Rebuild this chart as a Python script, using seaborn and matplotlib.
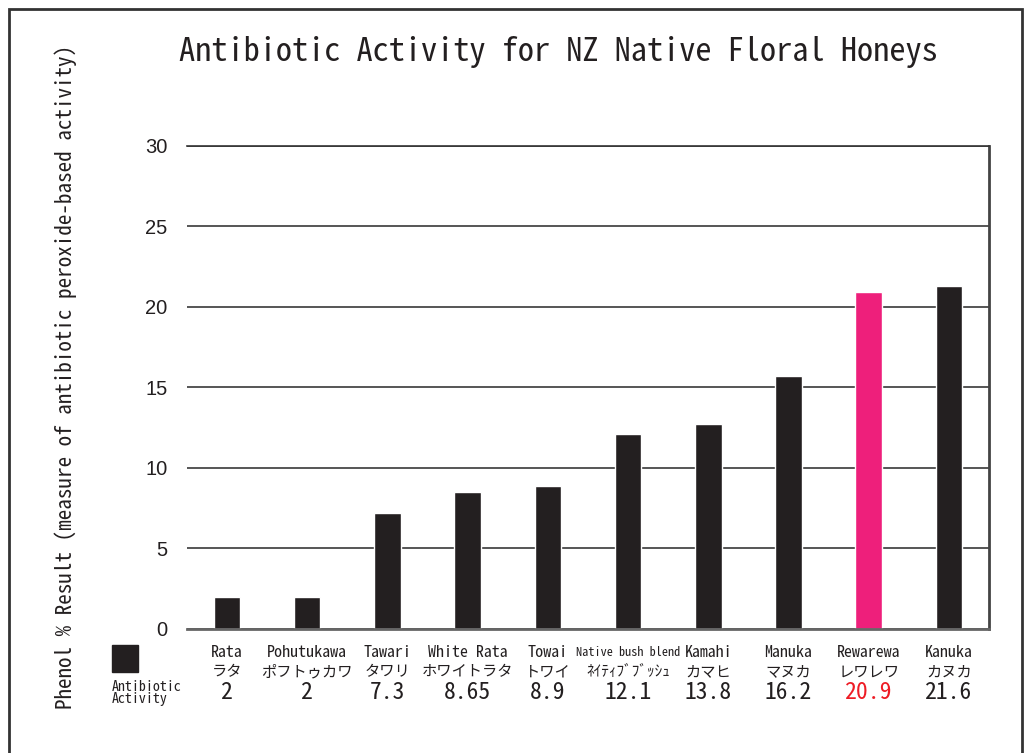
import matplotlib
matplotlib.use("Agg")
import matplotlib.pyplot as plt
import matplotlib.transforms as mtransforms
from matplotlib.patches import Rectangle
import seaborn as sns

# ==========================================================
# Data
# ==========================================================

honeys = ["Rata", "Pohutukawa", "Tawari", "White Rata", "Towai",
          "Native bush blend", "Kamahi", "Manuka", "Rewarewa", "Kanuka"]
katakana = ["ラタ", "ポフトゥカワ", "タワリ", "ホワイトラタ", "トワイ",
            "ﾈｲﾃｨﾌﾞﾌﾞｯｼｭ", "カマヒ", "マヌカ", "レワレワ", "カヌカ"]
# bar heights as drawn in the chart
bar_heights = [2.0, 2.0, 7.2, 8.5, 8.9, 12.1, 12.7, 15.7, 20.9, 21.3]
# value labels printed under the bars
value_labels = ["2", "2", "7.3", "8.65", "8.9", "12.1", "13.8", "16.2", "20.9", "21.6"]
highlight = "Rewarewa"

yticks = [0, 5, 10, 15, 20, 25, 30]

# ==========================================================
# Style
# ==========================================================

sns.set_style("white")
jp = ["Noto Sans Mono CJK JP", "Noto Sans CJK JP", "DejaVu Sans"]
plt.rcParams["font.family"] = jp

BAR = "#231f20"
PINK = "#ee1f7b"
RED = "#ee1c25"
TXT = "#231f20"

palette = {h: (PINK if h == highlight else BAR) for h in honeys}

fig = plt.figure(figsize=(10.27, 7.53), dpi=100)
ax = fig.add_axes([0.182, 0.1647, 0.781, 0.6415])

sns.barplot(
    x=honeys,
    y=bar_heights,
    hue=honeys,
    palette=palette,
    legend=False,
    width=0.33,
    saturation=1,
    ax=ax
)

ax.set_ylim(0, 30)
ax.set_xlim(-0.5, len(honeys) - 0.5)
ax.set_yticks(yticks)
ax.set_yticklabels([str(t) for t in yticks],
                   family=["Liberation Sans Narrow", "Liberation Sans", "DejaVu Sans"],
                   fontsize=14.5, color=TXT)
ax.tick_params(axis="y", length=0, pad=14)
ax.tick_params(axis="x", length=0, labelbottom=False)
ax.set_xlabel("")
ax.set_ylabel("")

ax.yaxis.grid(True, color="#555555", lw=1.4)
ax.set_axisbelow(True)

ax.spines["left"].set_visible(False)
ax.spines["bottom"].set_color("#666666")
ax.spines["bottom"].set_linewidth(2)
ax.spines["top"].set_color("#333333")
ax.spines["top"].set_linewidth(1.2)
ax.spines["right"].set_color("#444444")
ax.spines["right"].set_linewidth(2)

# ==========================================================
# Category labels (three rows)
# ==========================================================

trans = mtransforms.blended_transform_factory(ax.transData, ax.transAxes)
for i, (name, kana, val) in enumerate(zip(honeys, katakana, value_labels)):
    small = len(name) > 12
    ax.text(i, -0.049, name, transform=trans, ha="center", va="center",
            fontsize=8.8 if small else 11.5, color=TXT, weight="light")
    ax.text(i, -0.089, kana, transform=trans, ha="center", va="center",
            fontsize=11, color=TXT, weight="light")
    ax.text(i, -0.131, val, transform=trans, ha="center", va="center",
            fontsize=17, color=RED if name == highlight else TXT, weight="light")

# ==========================================================
# Legend swatch
# ==========================================================

fig.patches.append(Rectangle((112 / 1027, 1 - 672 / 753), 26 / 1027, 27 / 753,
                             transform=fig.transFigure, color=BAR))
fig.text(112 / 1027, 1 - 693 / 753, "Antibiotic\nActivity", ha="left", va="center",
         fontsize=10, linespacing=0.75, color=TXT, weight="light")

# ==========================================================
# Title, y label, frame
# ==========================================================

fig.text(0.544, 0.931, "Antibiotic Activity for NZ Native Floral Honeys",
         ha="center", va="center", fontsize=23.3, color=TXT, weight="light")
fig.text(0.064, 0.5, "Phenol % Result (measure of antibiotic peroxide-based activity)",
         rotation=90, ha="center", va="center", fontsize=15.2, color=TXT, weight="light")

fig.patches.append(Rectangle((9 / 1027, -0.05), 1013 / 1027, 1.05 - 9 / 753,
                             transform=fig.transFigure, fill=False,
                             edgecolor="#333333", lw=2))

fig.savefig("out.png", dpi=100)
